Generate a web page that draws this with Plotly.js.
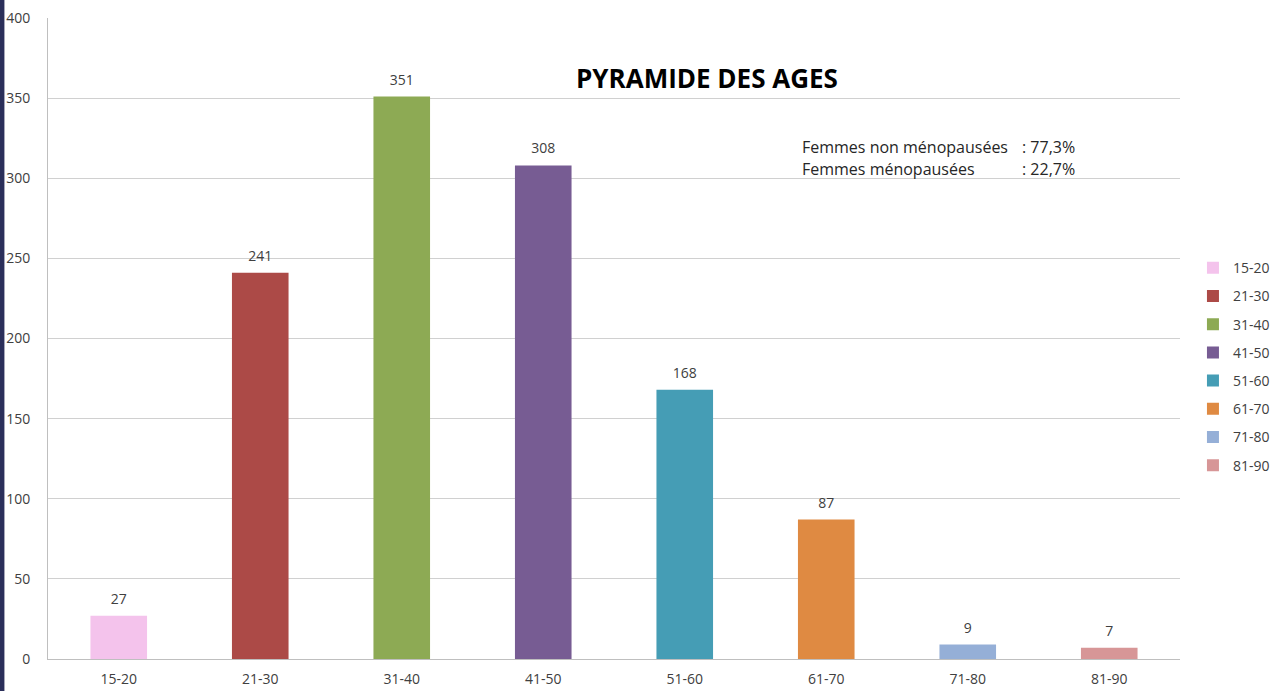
<!DOCTYPE html>
<html><head><meta charset="utf-8">
<script src="https://cdn.plot.ly/plotly-3.0.1.min.js"></script>
<style>html,body{margin:0;padding:0;background:#fff;}#chart{width:1280px;height:691px;}</style>
</head><body><div id="chart"></div>
<script>
const categories = ["15-20","21-30","31-40","41-50","51-60","61-70","71-80","81-90"];
const counts = [27, 241, 351, 308, 168, 87, 9, 7];
const colors = ["#F4C3EC","#AC4A47","#8DAA54","#775C93","#459DB5","#DF8A42","#95AFD7","#D79697"];
const yTicks = [0,50,100,150,200,250,300,350,400];
const titleText = "PYRAMIDE DES AGES";
const noteLabels = ["Femmes non ménopausées", "Femmes ménopausées"];
const noteValues = [": 77,3%", ": 22,7%"];

const font = "'Open Sans', Lato, sans-serif";
const traces = categories.map((c, i) => ({
  type: "bar",
  name: c,
  x: [c],
  y: [counts[i]],
  width: 0.4,
  marker: {color: colors[i]},
  legendgroup: "g" + i,
  hoverinfo: "x+y"
}));
traces.push({
  type: "scatter",
  mode: "markers+text",
  x: categories,
  y: counts,
  text: counts.map(String),
  textposition: "top center",
  textfont: {family: font, size: 14, color: "#404040"},
  marker: {size: 12, opacity: 0},
  cliponaxis: false,
  showlegend: false,
  hoverinfo: "skip"
});

const layout = {
  width: 1280, height: 691,
  margin: {l: 48, r: 100, t: 18, b: 32},
  paper_bgcolor: "#ffffff", plot_bgcolor: "#ffffff",
  barmode: "overlay",
  showlegend: true,
  legend: {xref: "container", yref: "container", x: 0.9320, y: 0.635, xanchor: "left", yanchor: "top",
    font: {family: font, size: 14, color: "#404040"},
    traceorder: "grouped", tracegroupgap: 7, itemwidth: 30},
  xaxis: {type: "category", categoryorder: "array", categoryarray: categories,
    tickfont: {family: font, size: 14, color: "#404040"},
    showline: true, linecolor: "#BFBFBF", linewidth: 1, ticks: "", ticklabelstandoff: 7,
    showgrid: false, fixedrange: true},
  yaxis: {range: [0, 400], tickvals: yTicks, ticktext: yTicks.map(String),
    tickfont: {family: font, size: 14, color: "#404040"},
    showline: true, linecolor: "#BFBFBF", linewidth: 1,
    showgrid: true, gridcolor: "#D0D0D0", gridwidth: 1, zeroline: false,
    ticks: "", ticklabelstandoff: 14, fixedrange: true},
  annotations: [
    {text: "<b>" + titleText + "</b>", xref: "paper", yref: "paper", x: 0.582, y: 0.906,
      xanchor: "center", yanchor: "middle", showarrow: false,
      font: {family: font, size: 26, color: "#000000"}},
    {text: noteLabels[0], xref: "paper", yref: "paper", x: 0.664, y: 0.798,
      xanchor: "left", yanchor: "middle", showarrow: false,
      font: {family: font, size: 16, color: "#262626"}},
    {text: noteLabels[1], xref: "paper", yref: "paper", x: 0.664, y: 0.765,
      xanchor: "left", yanchor: "middle", showarrow: false,
      font: {family: font, size: 16, color: "#262626"}},
    {text: noteValues[0], xref: "paper", yref: "paper", x: 0.8587, y: 0.798,
      xanchor: "left", yanchor: "middle", showarrow: false,
      font: {family: font, size: 16, color: "#262626"}},
    {text: noteValues[1], xref: "paper", yref: "paper", x: 0.8587, y: 0.765,
      xanchor: "left", yanchor: "middle", showarrow: false,
      font: {family: font, size: 16, color: "#262626"}}
  ],
  shapes: [
    {type: "rect", xref: "paper", yref: "paper", x0: -0.0424, x1: -0.0385, y0: -0.05, y1: 1.03,
      fillcolor: "#2B2F5A", line: {width: 0}, layer: "above"}
  ]
};

Plotly.newPlot("chart", traces, layout, {displayModeBar: false, staticPlot: true});
</script></body></html>
